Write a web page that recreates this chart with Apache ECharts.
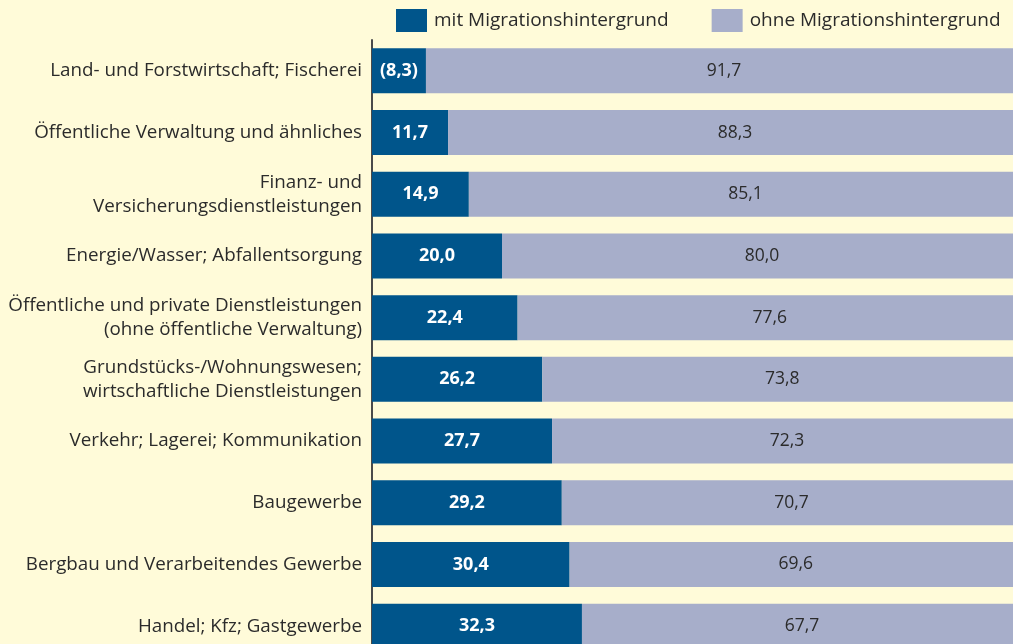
<!DOCTYPE html>
<html><head><meta charset="utf-8">
<script src="https://cdn.jsdelivr.net/npm/echarts@6/dist/echarts.min.js"></script>
<style>html,body{margin:0;padding:0;background:#fffbd9;}#c{width:1013px;height:644px;}</style>
</head><body><div id="c"></div>
<script>
const categories = [
  "Land- und Forstwirtschaft; Fischerei",
  "Öffentliche Verwaltung und ähnliches",
  "Finanz- und\nVersicherungsdienstleistungen",
  "Energie/Wasser; Abfallentsorgung",
  "Öffentliche und private Dienstleistungen\n(ohne öffentliche Verwaltung)",
  "Grundstücks-/Wohnungswesen;\nwirtschaftliche Dienstleistungen",
  "Verkehr; Lagerei; Kommunikation",
  "Baugewerbe",
  "Bergbau und Verarbeitendes Gewerbe",
  "Handel; Kfz; Gastgewerbe"
];
const mitValues = [8.3, 11.7, 14.9, 20.0, 22.4, 26.2, 27.7, 29.2, 30.4, 32.3];
const ohneValues = [91.7, 88.3, 85.1, 80.0, 77.6, 73.8, 72.3, 70.7, 69.6, 67.7];
const mitLabels = ["(8,3)", "11,7", "14,9", "20,0", "22,4", "26,2", "27,7", "29,2", "30,4", "32,3"];
const ohneLabels = ["91,7", "88,3", "85,1", "80,0", "77,6", "73,8", "72,3", "70,7", "69,6", "67,7"];
const seriesNames = ["mit Migrationshintergrund", "ohne Migrationshintergrund"];

const FONT = "Open Sans";
const chart = echarts.init(document.getElementById('c'), null, {renderer: 'canvas'});
chart.setOption({
  backgroundColor: '#fffbd9',
  animation: false,
  textStyle: {fontFamily: FONT},
  legend: {
    left: 396, top: 9, padding: 0,
    itemWidth: 31, itemHeight: 23, itemGap: 43,
    icon: 'rect',
    textStyle: {fontFamily: FONT, fontSize: 19, color: '#2b2b2b', padding: [0,0,0,2]},
    data: seriesNames
  },
  grid: {left: 372, width: 650, top: 40, height: 617, containLabel: false, outerBoundsMode: 'none'},
  xAxis: {type: 'value', min: 0, max: 100, show: false},
  yAxis: {
    type: 'category', data: categories, inverse: true,
    axisTick: {show: false},
    axisLine: {show: true, lineStyle: {color: '#4a4a4a', width: 2}},
    axisLabel: {fontFamily: FONT, fontSize: 18.8, color: '#2b2b2b', margin: 10, lineHeight: 24, align: 'right'},
    splitLine: {show: false}
  },
  series: [
    {
      name: seriesNames[0], type: 'bar', stack: 'a', barWidth: 45,
      itemStyle: {color: '#00558b'},
      data: mitValues,
      label: {show: true, position: 'inside', color: '#ffffff', fontFamily: FONT, fontWeight: 'bold', fontSize: 18,
        formatter: p => mitLabels[p.dataIndex]}
    },
    {
      name: seriesNames[1], type: 'bar', stack: 'a', barWidth: 45,
      itemStyle: {color: '#a7aeca'},
      data: ohneValues,
      label: {show: true, position: 'inside', color: '#2b2b2b', fontFamily: FONT, fontSize: 17.5,
        formatter: p => ohneLabels[p.dataIndex]}
    }
  ]
});
</script></body></html>
